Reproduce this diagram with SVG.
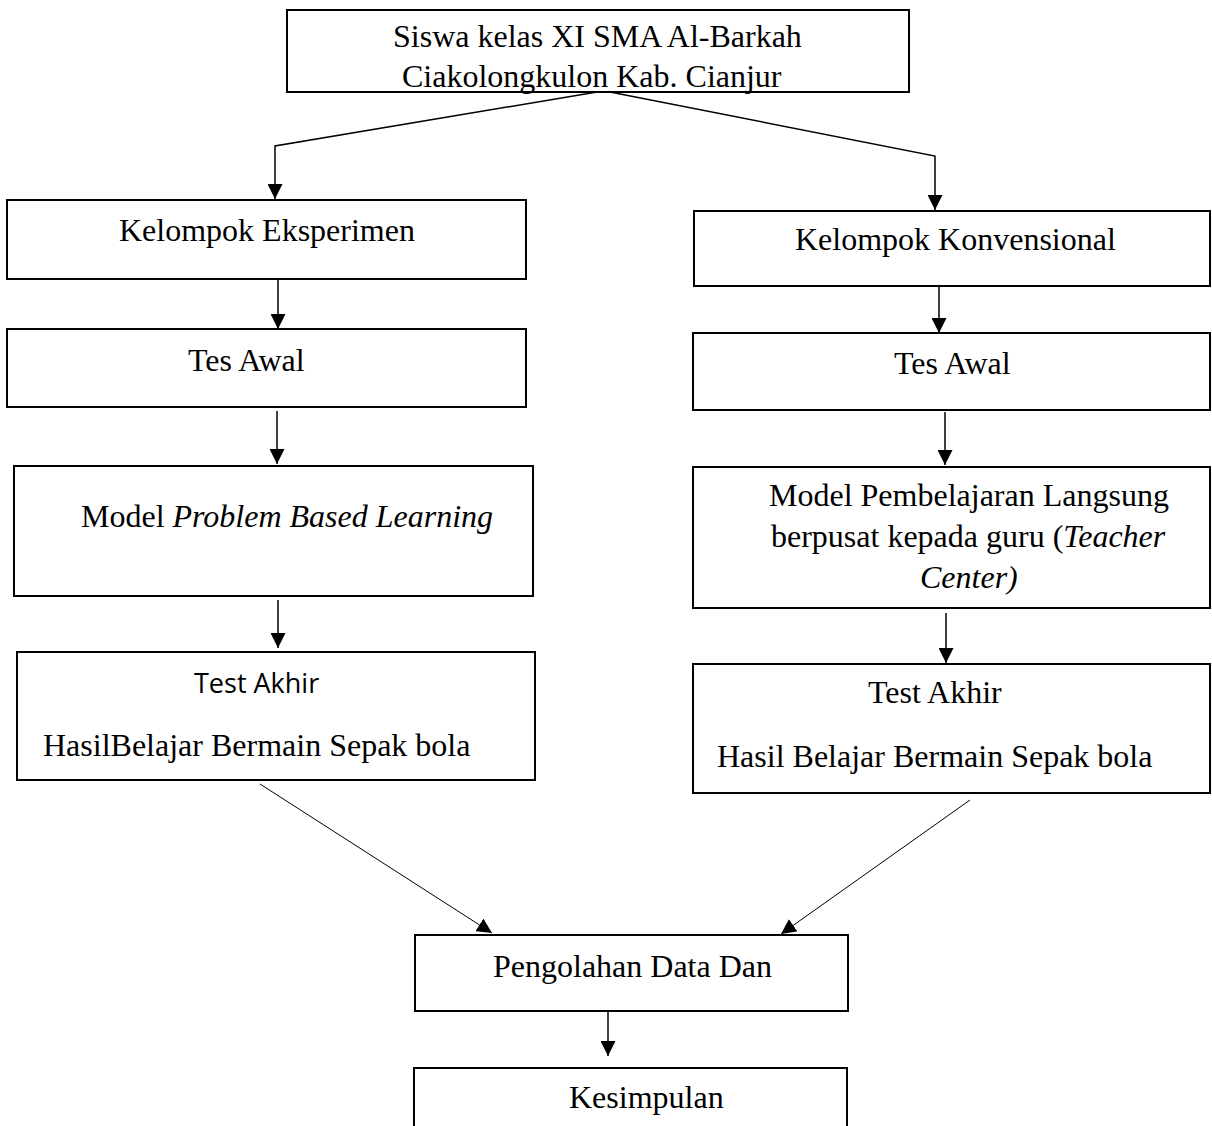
<svg xmlns="http://www.w3.org/2000/svg" width="1212" height="1126" viewBox="0 0 1212 1126">
<style>
.box{fill:#fff;stroke:#000;stroke-width:2}
.t{font-family:"Liberation Serif","Times New Roman",serif;font-size:32px;fill:#000}
.s{font-family:"Open Sans","Liberation Sans",sans-serif;font-size:27px;fill:#000}
.i{font-style:italic}
.c{fill:none;stroke:#000;stroke-width:1.5}
.d{fill:none;stroke:#000;stroke-width:1}
</style>
<defs>
<marker id="ah" viewBox="0 0 10 10" refX="10" refY="5" markerWidth="15" markerHeight="15" markerUnits="userSpaceOnUse" orient="auto">
<path d="M0,0 L10,5 L0,10 z" fill="#000"/>
</marker>
</defs>
<rect width="1212" height="1126" fill="#fff"/>
<g id="connectors">
<polyline class="c" points="597,92 275,146 275,199" marker-end="url(#ah)"/>
<polyline class="c" points="610,92 935,156 935,210" marker-end="url(#ah)"/>
<line class="c" x1="278" y1="279" x2="278" y2="329" marker-end="url(#ah)"/>
<line class="c" x1="939" y1="286" x2="939" y2="333" marker-end="url(#ah)"/>
<line class="c" x1="277" y1="411" x2="277" y2="464" marker-end="url(#ah)"/>
<line class="c" x1="945" y1="412" x2="945" y2="465" marker-end="url(#ah)"/>
<line class="c" x1="278" y1="600" x2="278" y2="648" marker-end="url(#ah)"/>
<line class="c" x1="946" y1="613" x2="946" y2="663" marker-end="url(#ah)"/>
<line class="d" x1="260" y1="784" x2="492" y2="933" marker-end="url(#ah)"/>
<line class="d" x1="970" y1="800" x2="781" y2="934" marker-end="url(#ah)"/>
<line class="c" x1="608" y1="1006" x2="608" y2="1056" marker-end="url(#ah)"/>
</g>
<g id="siswa">
<rect class="box" x="287" y="10" width="622" height="82"/>
<text class="t" x="393" y="47">Siswa kelas XI SMA Al-Barkah</text>
<text class="t" x="402" y="87">Ciakolongkulon Kab. Cianjur</text>
</g>
<g id="kelompok-eksperimen">
<rect class="box" x="7" y="200" width="519" height="79"/>
<text class="t" x="119" y="241">Kelompok Eksperimen</text>
</g>
<g id="kelompok-konvensional">
<rect class="box" x="694" y="211" width="516" height="75"/>
<text class="t" x="795" y="250">Kelompok Konvensional</text>
</g>
<g id="tes-awal-kiri">
<rect class="box" x="7" y="329" width="519" height="78"/>
<text class="t" x="188" y="371">Tes Awal</text>
</g>
<g id="tes-awal-kanan">
<rect class="box" x="693" y="333" width="517" height="77"/>
<text class="t" x="894" y="374">Tes Awal</text>
</g>
<g id="model-pbl">
<rect class="box" x="14" y="466" width="519" height="130"/>
<text class="t" x="81" y="527">Model <tspan class="i">Problem Based Learning</tspan></text>
</g>
<g id="model-langsung">
<rect class="box" x="693" y="467" width="517" height="141"/>
<text class="t" x="769" y="506">Model Pembelajaran Langsung</text>
<text class="t" x="771" y="547">berpusat kepada guru (<tspan class="i">Teacher</tspan></text>
<text class="t i" x="920" y="588">Center)</text>
</g>
<g id="test-akhir-kiri">
<rect class="box" x="17" y="652" width="518" height="128"/>
<text class="s" x="194" y="693">Test Akhir</text>
<text class="t" x="43" y="756">HasilBelajar Bermain Sepak bola</text>
</g>
<g id="test-akhir-kanan">
<rect class="box" x="693" y="664" width="517" height="129"/>
<text class="t" x="868" y="703">Test Akhir</text>
<text class="t" x="717" y="767">Hasil Belajar Bermain Sepak bola</text>
</g>
<g id="pengolahan">
<rect class="box" x="415" y="935" width="433" height="76"/>
<text class="t" x="493" y="977">Pengolahan Data Dan</text>
</g>
<g id="kesimpulan">
<rect class="box" x="414" y="1068" width="433" height="80"/>
<text class="t" x="569" y="1108">Kesimpulan</text>
</g>
</svg>
